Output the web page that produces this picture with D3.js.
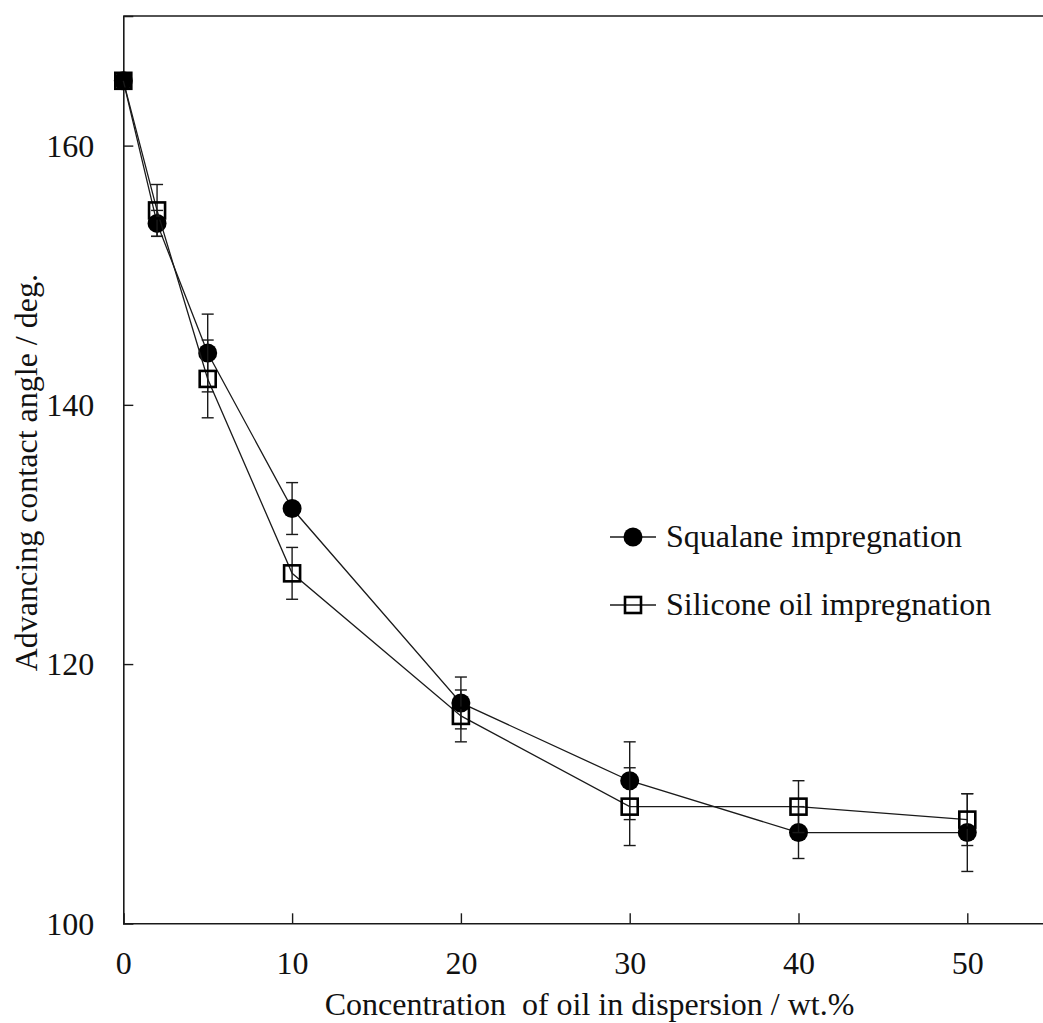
<!DOCTYPE html>
<html>
<head>
<meta charset="utf-8">
<script src="https://cdn.jsdelivr.net/npm/d3@7"></script>
<style>
  html, body { margin: 0; padding: 0; background: #fff; }
  svg { display: block; }
  text { font-family: "Liberation Serif", "Times New Roman", serif; fill: #111; }
</style>
</head>
<body>
<script>
// Oil concentration in the dispersion (wt.%)
const concentration = [0, 2, 5, 10, 20, 30, 40, 50];

// Advancing contact angle (deg.) and standard deviations
const squalaneAngle = [165, 154, 144, 132, 117, 111, 107, 107];
const squalaneErr   = [0, 1, 3, 2, 2, 3, 2, 3];
const siliconeAngle = [165, 155, 142, 127, 116, 109, 109, 108];
const siliconeErr   = [0, 2, 3, 2, 2, 3, 2, 2];

const xTicks = [0, 10, 20, 30, 40, 50];
const yTicks = [100, 120, 140, 160];

const seriesNames = ["Squalane impregnation", "Silicone oil impregnation"];
const xTitle = "Concentration\u00a0 of oil in dispersion / wt.%";
const yTitle = "Advancing contact angle / deg.";

const W = 1043, H = 1023;
const m = { left: 123.3, top: 16, bottom: 923.3 };
const ink = "#1a1a1a";
const fs = 32;

const x = d3.scaleLinear().domain([0, 55]).range([m.left, m.left + 55 * 16.88]);
const y = d3.scaleLinear().domain([100, 170]).range([m.bottom, m.top]);

const svg = d3.select("body").append("svg").attr("width", W).attr("height", H);

// Axes with inward ticks
const xAxis = d3.axisBottom(x).tickValues(xTicks).tickSize(-10).tickPadding(28).tickFormat(d3.format("d"));
const yAxis = d3.axisLeft(y).tickValues(yTicks).tickSize(-10).tickPadding(29).tickFormat(d3.format("d"));

const gx = svg.append("g").attr("transform", `translate(0,${m.bottom})`).call(xAxis);
const gy = svg.append("g").attr("transform", `translate(${m.left},0)`).call(yAxis);
[gx, gy].forEach(g => {
  g.attr("font-family", null);
  g.select(".domain").attr("stroke", ink).attr("stroke-width", 1.6);
  g.selectAll(".tick line").attr("stroke", ink).attr("stroke-width", 1.4);
  g.selectAll(".tick text").attr("font-size", fs).attr("fill", "#111");
});
gx.selectAll(".tick text").attr("dy", "0.71em");
gy.selectAll(".tick text").attr("dy", "0.34em");

// Top frame line
svg.append("line")
  .attr("x1", x(0)).attr("x2", x(55))
  .attr("y1", y(170)).attr("y2", y(170))
  .attr("stroke", ink).attr("stroke-width", 1.6);

// Axis titles
svg.append("text")
  .attr("x", (x(0) + x(55)) / 2 + 2).attr("y", 1015)
  .attr("text-anchor", "middle").attr("font-size", fs)
  .text(xTitle);

svg.append("text")
  .attr("transform", `translate(37,${(m.top + m.bottom) / 2 + 3}) rotate(-90)`)
  .attr("text-anchor", "middle").attr("font-size", fs)
  .text(yTitle);

const line = d3.line().x(d => x(d.x)).y(d => y(d.y));

function drawSeries(vals, errs, kind) {
  const pts = concentration.map((c, i) => ({ x: c, y: vals[i], e: errs[i] }));
  const g = svg.append("g");
  g.append("path").datum(pts).attr("d", line)
    .attr("fill", "none").attr("stroke", ink).attr("stroke-width", 1.3);
  const eb = g.selectAll(".eb").data(pts.filter(p => p.e > 0)).join("g");
  eb.append("line")
    .attr("x1", d => x(d.x)).attr("x2", d => x(d.x))
    .attr("y1", d => y(d.y - d.e)).attr("y2", d => y(d.y + d.e))
    .attr("stroke", ink).attr("stroke-width", 1.4);
  [-1, 1].forEach(s => {
    eb.append("line")
      .attr("x1", d => x(d.x) - 6).attr("x2", d => x(d.x) + 6)
      .attr("y1", d => y(d.y + s * d.e)).attr("y2", d => y(d.y + s * d.e))
      .attr("stroke", ink).attr("stroke-width", 1.4);
  });
  if (kind === "circle") {
    g.selectAll("circle").data(pts).join("circle")
      .attr("cx", d => x(d.x)).attr("cy", d => y(d.y)).attr("r", 9.5)
      .attr("fill", "#000");
  } else {
    g.selectAll("rect").data(pts).join("rect")
      .attr("x", d => x(d.x) - 8).attr("y", d => y(d.y) - 8)
      .attr("width", 16).attr("height", 16)
      .attr("fill", "none").attr("stroke", "#000").attr("stroke-width", 2.6);
  }
}

drawSeries(squalaneAngle, squalaneErr, "circle");
drawSeries(siliconeAngle, siliconeErr, "square");

// Legend
const legendRows = [
  { name: seriesNames[0], kind: "circle", cy: 537 },
  { name: seriesNames[1], kind: "square", cy: 605 }
];
const lg = svg.append("g");
legendRows.forEach(r => {
  lg.append("line").attr("x1", 610).attr("x2", 656).attr("y1", r.cy).attr("y2", r.cy)
    .attr("stroke", ink).attr("stroke-width", 1.4);
  if (r.kind === "circle") {
    lg.append("circle").attr("cx", 633).attr("cy", r.cy).attr("r", 9.5).attr("fill", "#000");
  } else {
    lg.append("rect").attr("x", 625).attr("y", r.cy - 8).attr("width", 16).attr("height", 16)
      .attr("fill", "none").attr("stroke", "#000").attr("stroke-width", 2.6);
  }
  lg.append("text").attr("x", 666).attr("y", r.cy + 10).attr("font-size", fs).text(r.name);
});
</script>
</body>
</html>
